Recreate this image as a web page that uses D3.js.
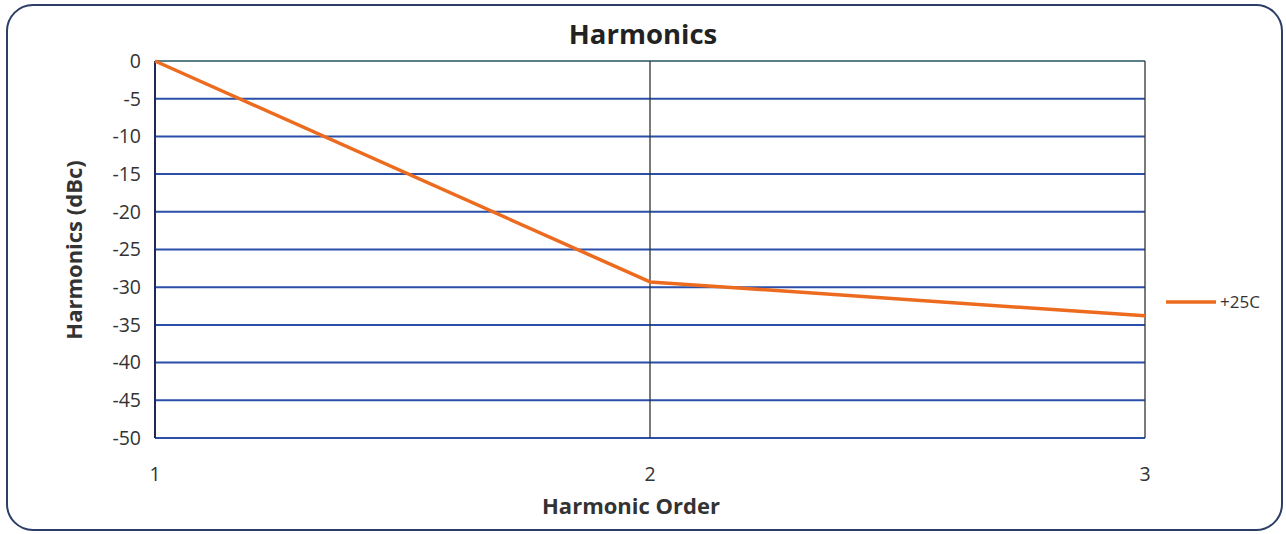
<!DOCTYPE html>
<html><head><meta charset="utf-8">
<script src="https://cdn.jsdelivr.net/npm/d3@7"></script>
<style>html,body{margin:0;padding:0;background:#fff;} svg{display:block;font-family:"Open Sans",Lato,sans-serif;}</style>
</head><body>
<svg id="c" width="1286" height="534"></svg>
<script>
const orders = [1, 2, 3];
const harm25C = [0, -29.3, -33.8];
const yTicks = [0, -5, -10, -15, -20, -25, -30, -35, -40, -45, -50];
const seriesName = "+25C";

const svg = d3.select("#c");
svg.append("rect").attr("x", 7).attr("y", 5).attr("width", 1275).attr("height", 525)
  .attr("rx", 26).attr("fill", "#fff").attr("stroke", "#2c3e66").attr("stroke-width", 2);

const m = {l: 155, r: 1145, t: 61, b: 438};
const x = d3.scaleLinear().domain([1, 3]).range([m.l, m.r]);
const y = d3.scaleLinear().domain([-50, 0]).range([m.b, m.t]);

// horizontal gridlines
svg.append("g").selectAll("line").data(yTicks).join("line")
  .attr("x1", m.l).attr("x2", m.r).attr("y1", d => y(d)).attr("y2", d => y(d))
  .attr("stroke", d => d === 0 ? "#5a7f8a" : "#2a4fa8").attr("stroke-width", 2);
// vertical gridlines
svg.append("g").selectAll("line").data(orders).join("line")
  .attr("x1", d => x(d)).attr("x2", d => x(d)).attr("y1", m.t).attr("y2", m.b)
  .attr("stroke", d => d === 1 ? "#1e2a55" : "#333").attr("stroke-width", d => d === 1 ? 2 : 1.3);

// y tick labels
svg.append("g").selectAll("text").data(yTicks).join("text")
  .attr("x", 141).attr("y", d => y(d)).attr("dy", "0.35em").attr("text-anchor", "end")
  .attr("font-size", 19.5).attr("fill", "#333").text(d => d);
// x tick labels
svg.append("g").selectAll("text").data(orders).join("text")
  .attr("x", d => x(d)).attr("y", 481).attr("text-anchor", "middle")
  .attr("font-size", 19.5).attr("fill", "#333").text(d => d);

// series
const line = d3.line().x((d, i) => x(orders[i])).y(d => y(d));
svg.append("path").datum(harm25C).attr("d", line).attr("fill", "none")
  .attr("stroke", "#ec6b1f").attr("stroke-width", 3.5).attr("stroke-linejoin", "round");

// titles
svg.append("text").attr("x", 643).attr("y", 44).attr("text-anchor", "middle")
  .attr("font-size", 27.5).attr("font-weight", "bold").attr("fill", "#222").text("Harmonics");
svg.append("text").attr("x", 631).attr("y", 514).attr("text-anchor", "middle")
  .attr("font-size", 22).attr("font-weight", "bold").attr("fill", "#333").text("Harmonic Order");
svg.append("text").attr("transform", "translate(82,250) rotate(-90)").attr("text-anchor", "middle")
  .attr("font-size", 22).attr("font-weight", "bold").attr("fill", "#333").text("Harmonics (dBc)");

// legend
svg.append("line").attr("x1", 1166).attr("x2", 1216).attr("y1", 302).attr("y2", 302)
  .attr("stroke", "#ec6b1f").attr("stroke-width", 3.5);
svg.append("text").attr("x", 1220).attr("y", 302).attr("dy", "0.35em")
  .attr("font-size", 17).attr("fill", "#333").text(seriesName);
</script>
</body></html>
